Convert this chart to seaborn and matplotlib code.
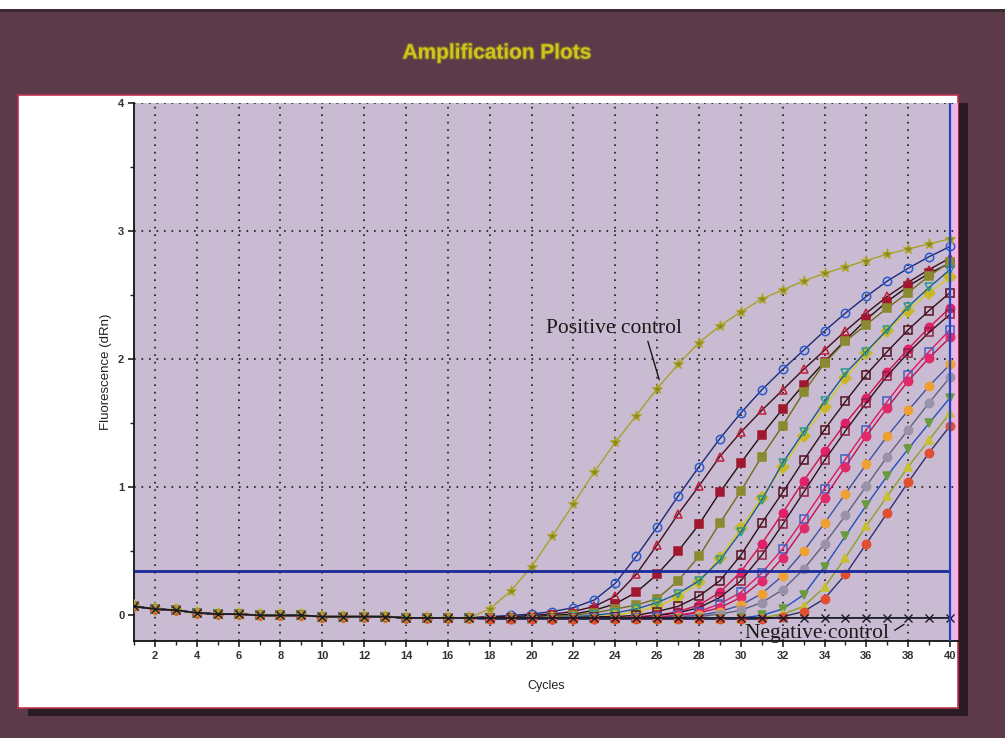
import matplotlib
matplotlib.use("Agg")
import matplotlib.pyplot as plt
import matplotlib.patheffects as pe
from matplotlib.patches import Rectangle
from matplotlib.ticker import MultipleLocator
import seaborn as sns
import pandas as pd

# cycles 1-40; all curves share the flat start (cycles 1-17)
cycles = list(range(1, 41))
baseline = [0.07, 0.05, 0.04, 0.02, 0.01, 0.01, 0.0, 0.0, 0.0, -0.01,
            -0.01, -0.01, -0.01, -0.02, -0.02, -0.02, -0.02]

# values for cycles 18-40
positive_control = [0.05, 0.19, 0.38, 0.62, 0.87, 1.12, 1.35, 1.56, 1.77, 1.96, 2.13, 2.26,
                    2.37, 2.47, 2.54, 2.61, 2.67, 2.72, 2.77, 2.82, 2.86, 2.90, 2.94]
negative_control = [-0.02, -0.02, -0.02, -0.02, -0.02, -0.02, -0.02, -0.02, -0.02, -0.02, -0.02, -0.02,
                    -0.02, -0.02, -0.02, -0.02, -0.02, -0.02, -0.02, -0.02, -0.02, -0.02, -0.02]

sample_01 = [-0.01, 0.0, 0.01, 0.03, 0.06, 0.12, 0.25, 0.46, 0.69, 0.93, 1.16, 1.38,
             1.58, 1.76, 1.92, 2.07, 2.22, 2.36, 2.49, 2.61, 2.71, 2.80, 2.88]
sample_02 = [-0.01, -0.01, 0.0, 0.01, 0.03, 0.07, 0.15, 0.32, 0.55, 0.79, 1.01, 1.24,
             1.43, 1.60, 1.76, 1.92, 2.07, 2.22, 2.36, 2.49, 2.60, 2.70, 2.79]
sample_03 = [-0.02, -0.02, -0.01, 0.0, 0.01, 0.04, 0.09, 0.18, 0.32, 0.50, 0.71, 0.96,
             1.19, 1.41, 1.61, 1.80, 1.98, 2.15, 2.31, 2.45, 2.57, 2.67, 2.75]
sample_04 = [-0.02, -0.02, -0.02, -0.01, 0.0, 0.02, 0.05, 0.08, 0.13, 0.27, 0.46, 0.72,
             0.97, 1.24, 1.48, 1.74, 1.97, 2.14, 2.27, 2.40, 2.52, 2.65, 2.76]
sample_05 = [-0.02, -0.02, -0.02, -0.02, -0.02, -0.01, 0.0, 0.03, 0.07, 0.14, 0.26, 0.45,
             0.68, 0.92, 1.16, 1.40, 1.63, 1.85, 2.05, 2.22, 2.38, 2.52, 2.64]
sample_06 = [-0.02, -0.02, -0.02, -0.02, -0.01, 0.0, 0.02, 0.05, 0.10, 0.17, 0.27, 0.43,
             0.65, 0.90, 1.19, 1.43, 1.67, 1.89, 2.06, 2.23, 2.41, 2.56, 2.70]
sample_07 = [-0.02, -0.02, -0.02, -0.02, -0.02, -0.01, -0.01, 0.0, 0.03, 0.07, 0.15, 0.27,
             0.47, 0.72, 0.96, 1.21, 1.45, 1.67, 1.88, 2.06, 2.23, 2.38, 2.52]
sample_08 = [-0.02, -0.02, -0.03, -0.03, -0.02, -0.02, -0.02, -0.01, 0.0, 0.03, 0.08, 0.18,
             0.34, 0.56, 0.80, 1.05, 1.28, 1.50, 1.70, 1.90, 2.08, 2.25, 2.40]
sample_09 = [-0.02, -0.02, -0.02, -0.02, -0.02, -0.02, -0.02, -0.02, 0.0, 0.02, 0.06, 0.14,
             0.27, 0.47, 0.71, 0.96, 1.21, 1.44, 1.66, 1.87, 2.05, 2.21, 2.35]
sample_10 = [-0.03, -0.03, -0.03, -0.03, -0.03, -0.02, -0.02, -0.02, -0.01, 0.0, 0.03, 0.09,
             0.18, 0.33, 0.52, 0.75, 0.99, 1.22, 1.45, 1.67, 1.88, 2.06, 2.23]
sample_11 = [-0.03, -0.03, -0.03, -0.03, -0.03, -0.03, -0.02, -0.02, -0.02, 0.0, 0.02, 0.06,
             0.14, 0.27, 0.45, 0.68, 0.92, 1.16, 1.40, 1.62, 1.83, 2.01, 2.17]
sample_12 = [-0.02, -0.02, -0.02, -0.02, -0.02, -0.02, -0.02, -0.02, -0.02, -0.01, 0.0, 0.03,
             0.08, 0.17, 0.31, 0.50, 0.72, 0.95, 1.18, 1.40, 1.60, 1.79, 1.96]
sample_13 = [-0.02, -0.02, -0.02, -0.02, -0.02, -0.02, -0.02, -0.02, -0.02, -0.02, -0.01, 0.01,
             0.04, 0.10, 0.20, 0.36, 0.56, 0.78, 1.01, 1.24, 1.45, 1.66, 1.86]
sample_14 = [-0.03, -0.03, -0.03, -0.03, -0.03, -0.03, -0.03, -0.03, -0.03, -0.03, -0.03, -0.03,
             -0.02, 0.0, 0.05, 0.16, 0.38, 0.62, 0.86, 1.09, 1.30, 1.50, 1.70]
sample_15 = [-0.03, -0.03, -0.03, -0.03, -0.03, -0.03, -0.03, -0.03, -0.03, -0.03, -0.03, -0.03,
             -0.03, -0.02, 0.01, 0.07, 0.22, 0.45, 0.70, 0.93, 1.16, 1.37, 1.58]
sample_16 = [-0.03, -0.03, -0.03, -0.03, -0.03, -0.03, -0.03, -0.03, -0.03, -0.03, -0.03, -0.03,
             -0.03, -0.03, -0.01, 0.03, 0.13, 0.32, 0.56, 0.80, 1.04, 1.27, 1.48]

threshold = 0.35

samples = [sample_01, sample_02, sample_03, sample_04, sample_05, sample_06, sample_07, sample_08,
           sample_09, sample_10, sample_11, sample_12, sample_13, sample_14, sample_15, sample_16]

# (line colour, marker, face colour, edge colour)
sample_styles = [
    ("#1c2a78", "o", "none", "#2a5ad0"),
    ("#3a1020", "^", "none", "#c0203c"),
    ("#201010", "s", "#a01830", "#a01830"),
    ("#6e6a18", "s", "#8c8a30", "#8c8a30"),
    ("#d8c820", "D", "#c8b828", "#c8b828"),
    ("#1a5a8a", "v", "none", "#2a9a90"),
    ("#301018", "s", "none", "#5a1020"),
    ("#d0104a", "o", "#e0206a", "#e0206a"),
    ("#2a1020", "s", "none", "#902040"),
    ("#e01860", "s", "none", "#4060c0"),
    ("#c01050", "o", "#e02a6a", "#e02a6a"),
    ("#4050a0", "o", "#f0a030", "#f0a030"),
    ("#606080", "o", "#9a92a8", "#9a92a8"),
    ("#2050c0", "v", "#6a9a40", "#6a9a40"),
    ("#90a020", "^", "#c8c030", "#c8c030"),
    ("#2a3070", "o", "#e05030", "#e05030"),
]

frame_color = "#5c3a4a"
plot_bg = "#c9bbd1"

sns.set_style("ticks")
plt.rcParams["font.family"] = ["Liberation Sans", "DejaVu Sans"]

fig = plt.figure(figsize=(10.05, 7.38), dpi=100, facecolor=frame_color)

# white strip at the top and the white panel with its shadow
fig.add_artist(Rectangle((0, 0.987), 1, 0.013, transform=fig.transFigure,
                         facecolor="white", edgecolor="none", zorder=-5))
fig.add_artist(Rectangle((0, 0.984), 1, 0.004, transform=fig.transFigure,
                         facecolor="#3a2a30", edgecolor="none", zorder=-5))
fig.add_artist(Rectangle((0.028, 0.030), 0.935, 0.8306, transform=fig.transFigure,
                         facecolor="#2a1c24", edgecolor="none", zorder=-5))
fig.add_artist(Rectangle((0.018, 0.0407), 0.935, 0.8306, transform=fig.transFigure,
                         facecolor="white", edgecolor="#c03050", lw=1.2, zorder=-4))

fig.text(0.495, 1 - 53 / 738, "Amplification Plots", ha="center", va="center",
         fontsize=15, fontweight="bold", color="#d2c41c",
         path_effects=[pe.Stroke(linewidth=1.6, foreground="#7a6a30"), pe.Normal()])

ax = fig.add_axes([134 / 1005, 97 / 738, 824 / 1005, 538 / 738])
ax.set_facecolor(plot_bg)

rows = []
for i, vals in enumerate(samples):
    for c, v in zip(cycles, baseline + vals):
        rows.append({"well": f"S{i + 1:02d}", "cycle": c, "dRn": v})
df = pd.DataFrame(rows)

for i, (lc, mk, fc, ec) in enumerate(sample_styles):
    d = df[df["well"] == f"S{i + 1:02d}"]
    sns.lineplot(data=d, x="cycle", y="dRn", ax=ax, color=lc, lw=1.0,
                 marker=mk, markersize=6, markerfacecolor=fc,
                 markeredgecolor=ec, markeredgewidth=1.1, zorder=3)

pos = pd.DataFrame({"cycle": cycles, "dRn": baseline + positive_control})
sns.lineplot(data=pos, x="cycle", y="dRn", ax=ax, color="#a8a028", lw=1.0,
             marker="*", markersize=8, markerfacecolor="#8a8a20",
             markeredgecolor="#b0a830", markeredgewidth=0.8, zorder=4)

neg = pd.DataFrame({"cycle": cycles, "dRn": baseline + negative_control})
sns.lineplot(data=neg, x="cycle", y="dRn", ax=ax, color="#1a1a2a", lw=1.3,
             marker="x", markersize=6, markeredgecolor="#1a1a2a",
             markeredgewidth=1.0, zorder=5)

ax.hlines(threshold, cycles[0], cycles[-1], color="#1a2a9a", lw=2.0, zorder=6)
ax.axvline(cycles[-1], color="#1848c8", lw=1.6, zorder=6)
ax.axvspan(cycles[-1], 40.38, color="#f0b4e4", zorder=1, lw=0)

ax.set_xlim(1, 40.38)
ax.set_ylim(-0.2, 4.0)
ax.set_xticks(range(2, 41, 2))
ax.xaxis.set_minor_locator(MultipleLocator(1))
ax.set_yticks([0, 1, 2, 3, 4])
ax.yaxis.set_minor_locator(MultipleLocator(0.5))
ax.tick_params(axis="both", which="major", length=4, width=1.2, colors="#222222",
               labelsize=8, pad=3)
ax.tick_params(axis="both", which="minor", length=3, width=1.0, colors="#222222")
for lab in ax.get_xticklabels() + ax.get_yticklabels():
    lab.set_fontweight("bold")
    lab.set_color("#333333")

for x in range(2, 40, 2):
    ax.axvline(x, color="#1a1a1a", lw=1.2, ls=(0, (1, 3.5)), zorder=2)
for y in [1, 2, 3, 4]:
    ax.axhline(y, color="#1a1a1a", lw=1.2, ls=(0, (1, 3.5)), zorder=2)

ax.spines["top"].set_visible(False)
ax.spines["right"].set_visible(False)
ax.spines["left"].set_color("#111111")
ax.spines["bottom"].set_color("#111111")
ax.spines["left"].set_linewidth(1.3)
ax.spines["bottom"].set_linewidth(1.3)

ax.set_xlabel("Cycles", fontsize=9, color="#222222", labelpad=14)
ax.set_ylabel("Fluorescence (dRn)", fontsize=9.5, color="#222222", labelpad=4)

ax.annotate("Positive control", xy=(26.1, 1.84), xytext=(20.7, 2.24),
            fontsize=15.5, family=["Liberation Serif", "DejaVu Serif"], color="#1a1a1a",
            ha="left", va="center", zorder=8,
            arrowprops=dict(arrowstyle="-", color="#1a1a1a", lw=1.0, relpos=(0.74, 0.0),
                            shrinkA=0, shrinkB=0))
ax.annotate("Negative control", xy=(37.8, -0.07), xytext=(30.2, -0.145),
            fontsize=15.5, family=["Liberation Serif", "DejaVu Serif"], color="#1a1a1a",
            ha="left", va="center", zorder=8,
            arrowprops=dict(arrowstyle="-", color="#1a1a1a", lw=1.0, relpos=(1.0, 0.5),
                            shrinkA=2, shrinkB=0))

fig.savefig("out.png", dpi=100, facecolor=fig.get_facecolor())
